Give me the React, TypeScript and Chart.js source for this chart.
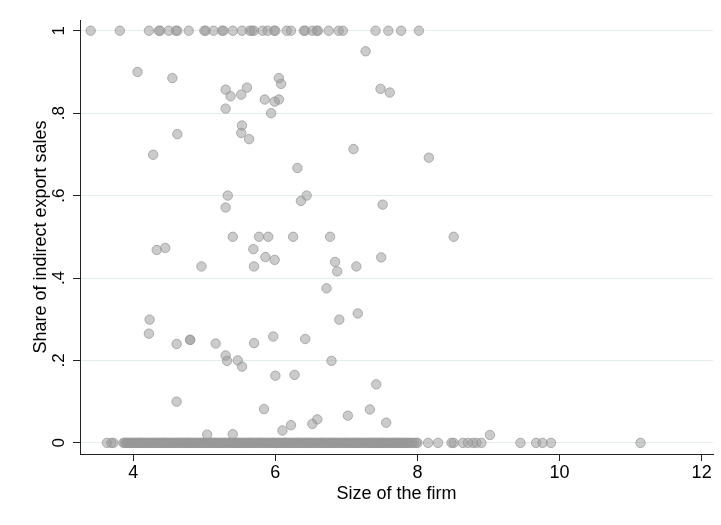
import React, { useEffect, useRef } from "react";
import { Chart, registerables } from "chart.js";

Chart.register(...registerables);

const FONT = '"Liberation Sans", Arial, Helvetica, sans-serif';

const xTitle = "Size of the firm";
const yTitle = "Share of indirect export sales";

const xTicks = [4, 6, 8, 10, 12];
const yTicks = [0, 0.2, 0.4, 0.6, 0.8, 1];
const yTickLabels = ["0", ".2", ".4", ".6", ".8", "1"];

// firms with share = 1
const topRowX = [
  3.4, 3.81, 4.22, 4.36, 4.38, 4.5, 4.6, 4.62, 4.78, 5.0, 5.02, 5.13, 5.25, 5.27,
  5.4, 5.53, 5.64, 5.67, 5.7, 5.82, 5.89, 5.98, 6.0, 6.16, 6.22, 6.4, 6.42, 6.52,
  6.58, 6.6, 6.75, 6.89, 6.95, 7.41, 7.59, 7.77, 8.02,
];

// firms with share = 0
const zeroRowX = [
  3.63, 3.69, 3.72, 3.86, 3.88, 3.9, 3.92, 3.93, 3.95, 3.97, 3.99, 4.01, 4.03, 4.05,
  4.07, 4.09, 4.1, 4.12, 4.14, 4.16, 4.18, 4.2, 4.22, 4.24, 4.26, 4.27, 4.29, 4.31,
  4.33, 4.35, 4.37, 4.39, 4.41, 4.43, 4.44, 4.46, 4.48, 4.5, 4.52, 4.54, 4.56, 4.58,
  4.6, 4.61, 4.63, 4.65, 4.67, 4.69, 4.71, 4.73, 4.75, 4.77, 4.78, 4.8, 4.82, 4.84,
  4.86, 4.88, 4.9, 4.92, 4.94, 4.95, 4.97, 4.99, 5.01, 5.03, 5.05, 5.07, 5.09, 5.11,
  5.12, 5.14, 5.16, 5.18, 5.2, 5.22, 5.24, 5.26, 5.28, 5.29, 5.31, 5.33, 5.35, 5.37,
  5.39, 5.41, 5.43, 5.45, 5.46, 5.48, 5.5, 5.52, 5.54, 5.56, 5.58, 5.6, 5.62, 5.63,
  5.65, 5.67, 5.69, 5.71, 5.73, 5.75, 5.77, 5.79, 5.8, 5.82, 5.84, 5.86, 5.88, 5.9,
  5.92, 5.94, 5.96, 5.97, 5.99, 6.01, 6.03, 6.05, 6.07, 6.09, 6.11, 6.13, 6.14, 6.16,
  6.18, 6.2, 6.22, 6.24, 6.26, 6.28, 6.3, 6.31, 6.33, 6.35, 6.37, 6.39, 6.41, 6.43,
  6.45, 6.47, 6.48, 6.5, 6.52, 6.54, 6.56, 6.58, 6.6, 6.62, 6.64, 6.65, 6.67, 6.69,
  6.71, 6.73, 6.75, 6.77, 6.79, 6.81, 6.82, 6.84, 6.86, 6.88, 6.9, 6.92, 6.94, 6.96,
  6.98, 6.99, 7.01, 7.03, 7.05, 7.07, 7.09, 7.11, 7.13, 7.15, 7.16, 7.18, 7.2, 7.22,
  7.24, 7.26, 7.28, 7.3, 7.32, 7.33, 7.35, 7.37, 7.39, 7.41, 7.43, 7.45, 7.47, 7.49,
  7.5, 7.52, 7.54, 7.56, 7.58, 7.6, 7.62, 7.64, 7.66, 7.67, 7.69, 7.71, 7.73, 7.75,
  7.77, 7.79, 7.81, 7.83, 7.85, 7.87, 7.89, 7.92, 7.95, 7.98, 8.0, 8.15, 8.29, 8.48,
  8.51, 8.64, 8.71, 8.78, 8.83, 8.9, 9.45, 9.67, 9.76, 9.88, 11.14,
];

// firms with an intermediate share
const midX = [
  7.27, 4.06, 4.55, 5.3, 5.37, 5.52, 5.6, 5.3, 5.85, 5.99, 6.05, 6.05, 6.08, 5.94,
  7.48, 7.61, 5.53, 4.62, 5.52, 5.63, 4.28, 7.1, 8.16, 6.31, 5.33, 5.3, 6.44, 6.36,
  7.51, 5.4, 5.77, 5.9, 6.25, 6.77, 8.51, 4.33, 4.45, 5.69, 5.86, 5.99, 4.96, 5.7,
  6.84, 6.87, 7.14, 7.49, 6.72, 4.23, 4.22, 4.61, 4.8, 4.8, 5.16, 5.3, 5.32, 5.47,
  5.53, 5.7, 5.97, 6.42, 6.9, 7.16, 6.79, 6.0, 6.27, 7.42, 4.61, 5.84, 7.02, 7.33,
  7.56, 6.1, 6.22, 6.52, 6.59, 5.04, 5.4, 9.02,
];
const midY = [
  0.95, 0.9, 0.885, 0.857, 0.841, 0.845, 0.862, 0.811, 0.833, 0.828, 0.833, 0.885,
  0.871, 0.8, 0.859, 0.85, 0.77, 0.749, 0.752, 0.737, 0.699, 0.713, 0.692, 0.667,
  0.6, 0.571, 0.6, 0.587, 0.578, 0.5, 0.5, 0.5, 0.5, 0.5, 0.5, 0.468, 0.473, 0.47,
  0.451, 0.444, 0.428, 0.428, 0.439, 0.416, 0.428, 0.45, 0.375, 0.299, 0.265, 0.24,
  0.25, 0.25, 0.241, 0.212, 0.199, 0.2, 0.185, 0.242, 0.258, 0.252, 0.299, 0.314,
  0.199, 0.163, 0.165, 0.142, 0.1, 0.082, 0.066, 0.081, 0.049, 0.03, 0.043, 0.046,
  0.057, 0.02, 0.021, 0.019,
];

export default function App() {
  const ref = useRef<HTMLCanvasElement>(null);

  useEffect(() => {
    const points = [
      ...topRowX.map((x) => ({ x, y: 1 })),
      ...midX.map((x, i) => ({ x, y: midY[i] })),
      ...zeroRowX.map((x) => ({ x, y: 0 })),
    ];
    const chart = new Chart(ref.current as HTMLCanvasElement, {
      type: "scatter",
      data: {
        datasets: [
          {
            data: points,
            pointRadius: 4.7,
            pointHoverRadius: 4.7,
            backgroundColor: "rgba(152,152,152,0.5)",
            borderColor: "rgba(152,152,152,0.75)",
            borderWidth: 1,
          },
        ],
      },
      options: {
        animation: false,
        responsive: false,
        devicePixelRatio: 1,
        events: [],
        layout: { padding: { top: 20, right: 8, bottom: 0, left: 0 } },
        plugins: { legend: { display: false }, tooltip: { enabled: false } },
        scales: {
          x: {
            type: "linear",
            min: 3.25,
            max: 12.16,
            afterBuildTicks: (s: any) => {
              s.ticks = xTicks.map((v) => ({ value: v }));
            },
            afterFit: (s: any) => {
              s.height = 71;
              s.paddingLeft = 0;
              s.paddingRight = 0;
            },
            ticks: {
              color: "#000",
              font: { family: FONT, size: 18 },
              padding: 1,
              maxRotation: 0,
              minRotation: 0,
              callback: (v: any) => String(v),
            },
            grid: {
              drawOnChartArea: false,
              drawTicks: true,
              tickLength: 7,
              tickColor: "#222",
              color: "#222",
            },
            border: { display: true, color: "#222", width: 1 },
            title: {
              display: true,
              text: xTitle,
              color: "#000",
              font: { family: FONT, size: 18 },
              padding: { top: 0, bottom: 20.5 },
            },
          },
          y: {
            type: "linear",
            min: -0.027,
            max: 1.026,
            afterBuildTicks: (s: any) => {
              s.ticks = yTicks.map((v) => ({ value: v }));
            },
            afterFit: (s: any) => {
              s.width = 80;
              s.paddingTop = 0;
              s.paddingBottom = 0;
            },
            ticks: {
              color: "#000",
              font: { family: FONT, size: 17 },
              padding: 7,
              minRotation: 90,
              maxRotation: 90,
              crossAlign: "center",
              callback: (v: any) => {
                const i = yTicks.findIndex((t) => Math.abs(t - v) < 1e-6);
                return i >= 0 ? yTickLabels[i] : "";
              },
            },
            grid: {
              drawOnChartArea: true,
              drawTicks: true,
              tickLength: 7,
              tickColor: "#222",
              color: "#e3ecee",
            },
            border: { display: true, color: "#222", width: 1 },
            title: {
              display: true,
              text: yTitle,
              color: "#000",
              font: { family: FONT, size: 18 },
              padding: { top: 30, bottom: 0 },
            },
          },
        },
      },
    } as any);
    return () => chart.destroy();
  }, []);

  return (
    <div
      style={{
        position: "fixed",
        left: 0,
        top: 0,
        width: 721,
        height: 525,
        background: "#fff",
      }}
    >
      <canvas ref={ref} width={721} height={525} style={{ display: "block" }} />
    </div>
  );
}
